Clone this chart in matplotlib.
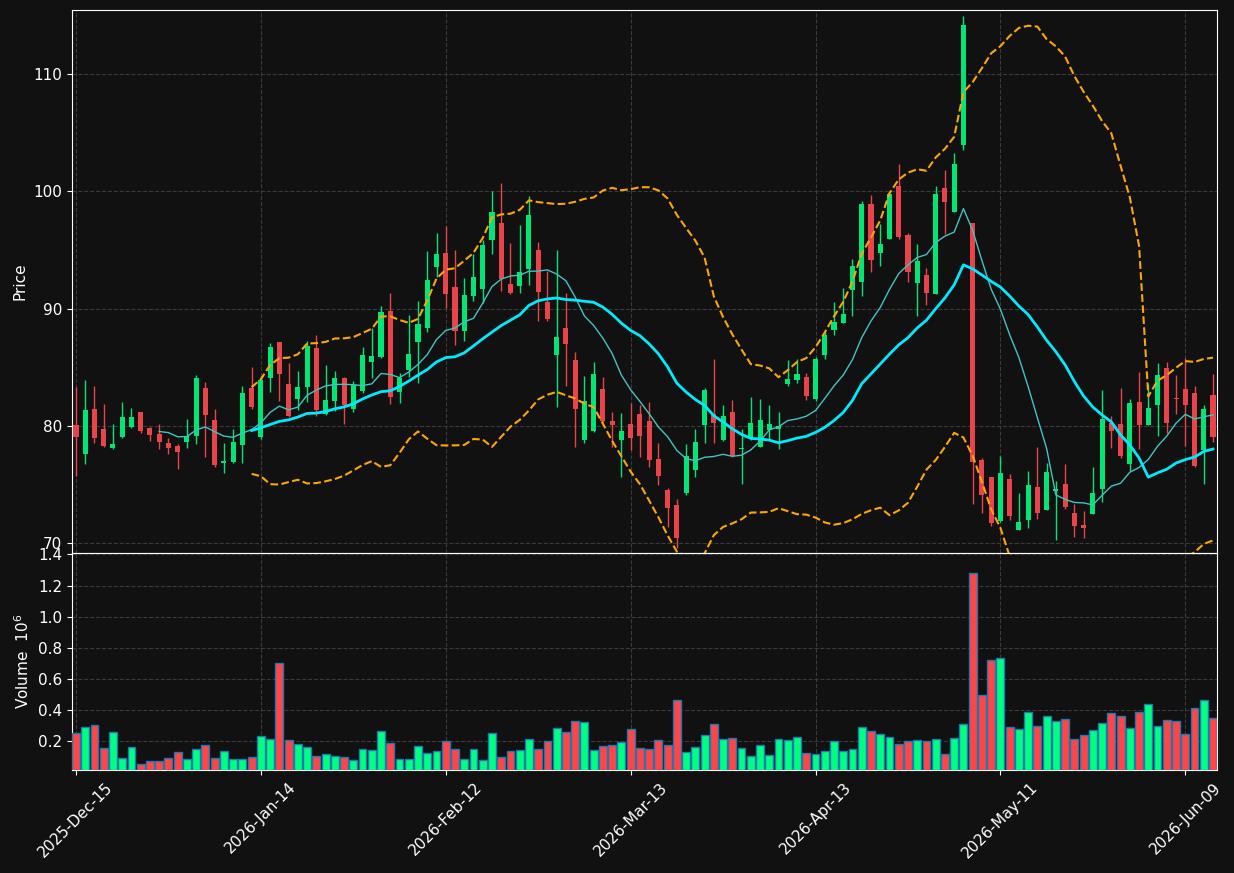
import numpy as np
import pandas as pd
import matplotlib
matplotlib.use('Agg')
import matplotlib.pyplot as plt

# daily OHLC, volume in millions
opens = [80.09, 77.64, 81.45, 79.74, 78.15, 79.06, 79.94, 81.19, 79.83, 79.32,
         78.55, 78.27, 78.66, 79.18, 83.21, 80.51, 76.87, 76.96, 78.41, 83.24,
         79.10, 84.12, 87.13, 83.55, 82.33, 83.35, 86.62, 81.00, 82.16, 84.06,
         81.48, 82.95, 85.48, 85.91, 89.77, 82.93, 84.77, 87.16, 88.38, 93.58,
         94.74, 91.85, 88.10, 91.08, 91.68, 95.85, 97.30, 92.10, 91.93, 93.38,
         95.00, 90.57, 86.08, 88.35, 85.63, 78.84, 79.60, 83.15, 80.43, 78.84,
         80.17, 81.02, 80.43, 77.19, 74.55, 73.27, 74.32, 76.22, 80.11, 81.02,
         78.84, 81.19, 78.01, 79.00, 78.24, 79.66, 79.77, 83.58, 83.92, 84.18,
         82.31, 86.05, 88.18, 88.79, 91.61, 92.28, 98.90, 94.76, 95.97, 100.43,
         96.25, 92.19, 92.85, 91.27, 100.26, 98.24, 103.98, 97.29, 77.09, 75.62,
         71.93, 75.48, 71.16, 72.02, 74.80, 72.87, 74.49, 75.06, 72.59, 71.56,
         72.53, 74.63, 80.26, 80.17, 76.79, 82.05, 80.11, 81.82, 84.94, 82.39,
         83.15, 82.81, 77.95, 82.64]
highs = [83.35, 83.90, 83.38, 81.90, 80.17, 82.05, 81.50, 81.19, 79.90, 80.20,
         78.95, 78.49, 80.57, 84.32, 83.72, 81.48, 78.58, 79.72, 83.38, 85.00,
         84.30, 87.05, 87.20, 85.34, 84.72, 87.27, 87.73, 85.17, 84.72, 84.15,
         83.86, 86.70, 88.38, 90.26, 91.36, 84.55, 89.43, 90.68, 94.91, 96.45,
         97.05, 94.97, 92.59, 94.66, 95.85, 100.00, 100.68, 95.57, 97.10, 99.60,
         95.68, 93.24, 94.97, 91.30, 86.28, 84.23, 85.43, 84.15, 81.16, 81.08,
         81.99, 81.76, 82.05, 78.52, 74.72, 73.75, 78.44, 79.72, 83.21, 85.68,
         81.76, 82.19, 79.77, 82.44, 82.27, 81.76, 81.19, 85.60, 85.68, 84.49,
         85.91, 88.07, 90.61, 91.76, 94.27, 99.16, 99.65, 97.18, 99.94, 102.36,
         96.48, 95.50, 93.43, 100.49, 101.79, 103.26, 114.93, 97.30, 77.23, 75.62,
         77.44, 75.91, 74.26, 76.14, 78.18, 76.88, 75.28, 76.76, 73.38, 72.76,
         76.48, 83.07, 80.88, 83.24, 82.27, 84.60, 83.55, 85.34, 85.43, 84.38,
         85.77, 83.38, 81.76, 84.40]
lows = [75.74, 76.73, 78.58, 78.24, 78.07, 78.98, 79.86, 79.43, 78.72, 78.00,
        77.58, 76.30, 78.10, 78.44, 77.39, 76.48, 75.97, 76.82, 76.82, 81.48,
        78.90, 82.87, 82.13, 80.74, 81.36, 82.05, 80.88, 80.94, 81.28, 80.20,
        81.16, 82.80, 84.06, 85.77, 81.90, 81.93, 84.20, 83.64, 88.04, 92.73,
        90.09, 86.93, 87.27, 90.63, 90.45, 94.66, 91.50, 91.25, 91.30, 91.99,
        88.92, 88.92, 81.59, 83.38, 78.18, 78.55, 79.50, 80.30, 78.24, 75.63,
        77.95, 77.39, 76.48, 74.94, 71.42, 69.57, 74.09, 75.63, 78.58, 78.52,
        78.70, 77.36, 75.03, 78.81, 78.18, 78.81, 78.01, 83.44, 83.64, 82.24,
        82.16, 85.71, 87.78, 88.79, 89.37, 91.04, 93.11, 93.60, 95.97, 95.90,
        92.31, 89.37, 90.35, 91.27, 96.34, 98.24, 103.52, 73.31, 72.62, 71.50,
        71.80, 71.99, 71.16, 71.34, 72.07, 72.87, 70.28, 72.93, 70.57, 70.48,
        72.53, 73.49, 78.10, 77.30, 76.14, 78.01, 80.11, 79.15, 79.38, 80.99,
        78.32, 76.53, 75.06, 78.61]
closes = [79.09, 81.36, 79.00, 78.30, 78.47, 80.77, 80.77, 79.60, 79.26, 78.66,
          78.15, 77.81, 79.12, 84.06, 80.97, 76.70, 77.00, 78.64, 82.81, 81.62,
          83.92, 86.73, 84.46, 80.88, 83.30, 86.82, 81.39, 82.19, 84.06, 81.79,
          83.52, 86.02, 85.94, 89.69, 82.50, 84.09, 86.14, 88.69, 92.44, 94.66,
          91.25, 88.13, 91.16, 92.70, 95.43, 98.24, 92.50, 91.34, 93.13, 97.98,
          91.45, 89.12, 87.59, 87.02, 81.48, 82.13, 84.43, 80.45, 80.11, 79.57,
          79.00, 79.15, 77.13, 75.77, 73.04, 70.48, 77.44, 78.64, 83.07, 80.28,
          80.85, 77.41, 78.13, 80.26, 80.51, 80.14, 80.00, 83.98, 84.43, 82.59,
          85.68, 87.72, 88.85, 89.54, 93.63, 98.90, 94.15, 95.50, 99.80, 96.11,
          93.14, 94.03, 91.35, 99.77, 99.11, 102.31, 114.18, 76.92, 74.12, 71.73,
          75.99, 72.36, 71.82, 74.97, 72.61, 76.08, 74.63, 73.10, 71.51, 71.34,
          74.29, 80.60, 79.57, 77.47, 81.96, 80.11, 81.53, 84.32, 80.28, 82.27,
          81.82, 76.62, 81.45, 79.09]
volumes = [0.254, 0.290, 0.303, 0.155, 0.258, 0.090, 0.161, 0.052, 0.071, 0.071,
           0.090, 0.129, 0.084, 0.148, 0.174, 0.090, 0.136, 0.084, 0.084, 0.097,
           0.232, 0.213, 0.702, 0.206, 0.181, 0.161, 0.103, 0.116, 0.103, 0.097,
           0.078, 0.148, 0.142, 0.264, 0.187, 0.084, 0.084, 0.168, 0.123, 0.136,
           0.200, 0.148, 0.084, 0.148, 0.078, 0.252, 0.097, 0.136, 0.142, 0.213,
           0.148, 0.200, 0.284, 0.258, 0.329, 0.322, 0.142, 0.168, 0.174, 0.194,
           0.277, 0.155, 0.148, 0.206, 0.174, 0.464, 0.129, 0.161, 0.239, 0.309,
           0.213, 0.219, 0.155, 0.103, 0.174, 0.110, 0.213, 0.206, 0.226, 0.123,
           0.116, 0.136, 0.200, 0.136, 0.148, 0.290, 0.264, 0.245, 0.226, 0.181,
           0.200, 0.206, 0.200, 0.213, 0.116, 0.219, 0.309, 1.281, 0.496, 0.721,
           0.734, 0.290, 0.277, 0.387, 0.297, 0.361, 0.329, 0.342, 0.213, 0.239,
           0.271, 0.316, 0.380, 0.361, 0.284, 0.387, 0.438, 0.297, 0.335, 0.329,
           0.245, 0.412, 0.464, 0.348]

start_date = '2025-12-15'
holidays = ['2025-12-25', '2026-01-01', '2026-01-19', '2026-02-16', '2026-04-03', '2026-05-25']

BG = '#111111'
UP, DOWN = '#00e676', '#e8444a'
VUP, VDOWN = '#00ff80', '#ff4646'
GRID = '#3a3a3a'


def main():
    n = len(closes)
    dates = pd.bdate_range(start_date, periods=n, freq='C', holidays=holidays)
    df = pd.DataFrame({'Open': opens, 'High': highs, 'Low': lows,
                       'Close': closes, 'Volume': volumes}, index=dates)
    x = np.arange(n)
    up = (df.Close >= df.Open).values

    ma10 = df.Close.rolling(10).mean()
    ma20 = df.Close.rolling(20).mean()
    sd20 = df.Close.rolling(20).std(ddof=0)

    fig = plt.figure(figsize=(12.34, 8.73), dpi=100, facecolor=BG)
    ax1 = fig.add_axes([72 / 1234, 320 / 873, 1145 / 1234, 543 / 873])
    ax2 = fig.add_axes([72 / 1234, 103 / 873, 1145 / 1234, 217 / 873], sharex=ax1)

    ccol = np.where(up, UP, DOWN)
    ax1.vlines(x, df.Low, df.High, colors=ccol, linewidth=1, zorder=3)
    body_lo = np.minimum(df.Open, df.Close)
    body_h = np.maximum(np.abs(df.Close - df.Open), 0.05)
    ax1.bar(x, body_h, bottom=body_lo, width=0.55, color=ccol, zorder=4)

    ax1.plot(x, ma10, color='#40c4c4', linewidth=1, zorder=5)
    ax1.plot(x, ma20, color='#00eaff', linewidth=2, zorder=5)
    ax1.plot(x, ma20 + 2 * sd20, color='#ffa500', linewidth=1.5, linestyle='--', zorder=5)
    ax1.plot(x, ma20 - 2 * sd20, color='#ffa500', linewidth=1.5, linestyle='--', zorder=5)

    vcol = np.where(up, VUP, VDOWN)
    ax2.bar(x, df.Volume, width=0.85, color=vcol, edgecolor='#1f77b4', linewidth=1, zorder=3)

    ax1.set_xlim(-0.43, n - 1 + 0.43)
    ax1.set_ylim(69.17, 115.46)
    ax2.set_ylim(0.3 * df.Volume.min(), 1.1 * df.Volume.max())

    ax1.set_yticks([70, 80, 90, 100, 110])
    ax2.set_yticks([0.2, 0.4, 0.6, 0.8, 1.0, 1.2, 1.4])
    ticks = x[::20]
    ax2.set_xticks(ticks)
    ax2.set_xticklabels(dates[::20].strftime('%Y-%b-%d'), rotation=45, ha='center')

    for ax in (ax1, ax2):
        ax.set_facecolor(BG)
        ax.set_axisbelow(True)
        ax.grid(True, linestyle='--', color=GRID, linewidth=0.8)
        for s in ax.spines.values():
            s.set_color('white')
        ax.tick_params(colors='white', labelsize=11)
    ax1.tick_params(axis='x', bottom=False, labelbottom=False)

    ax1.set_ylabel('Price', color='white', fontsize=11)
    ax2.set_ylabel('Volume  $10^{6}$', color='white', fontsize=11)

    fig.savefig('out.png', dpi=100, facecolor=BG)


if __name__ == '__main__':
    main()
